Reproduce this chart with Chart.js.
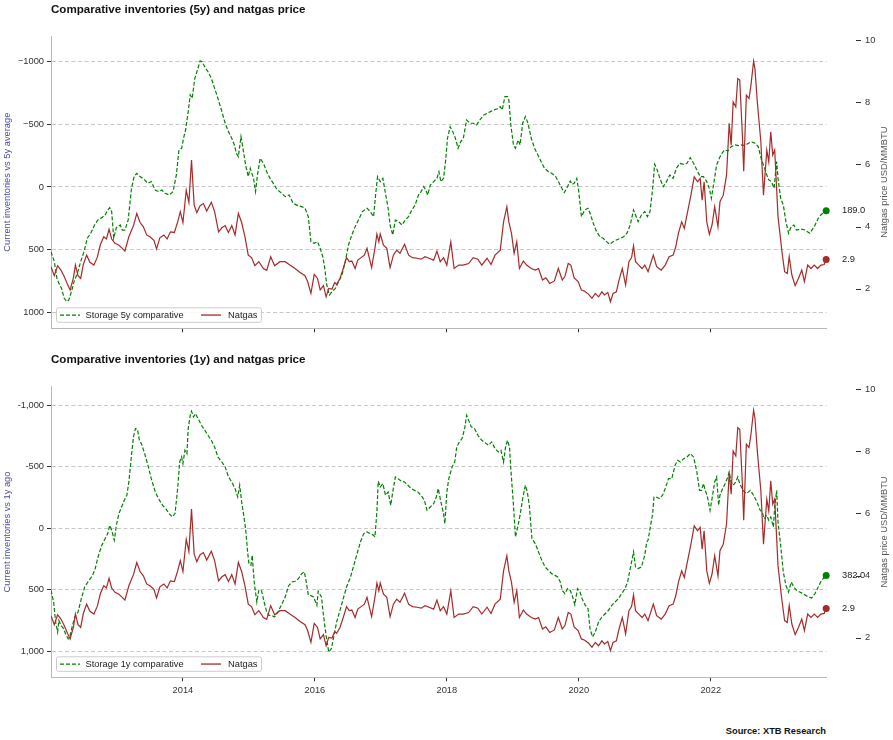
<!DOCTYPE html>
<html lang="en">
<head>
  <meta charset="UTF-8">
  <title>Comparative inventories and natgas price</title>
  <script src="https://cdn.jsdelivr.net/npm/chart.js"></script>
  <style>
    body { margin: 0; background: #fff; }
    #wrap { position: relative; width: 893px; height: 740px; font-family: "Liberation Sans", Arial, sans-serif; }
    canvas { position: absolute; left: 0; }
    .titulo { position: absolute; left: 51px; font-weight: bold; font-size: 11.6px; line-height: 14px; color: #111; white-space: nowrap; }
    #fonte { position: absolute; right: 67px; top: 724px; font-weight: bold; font-size: 9.3px; line-height: 14px; color: #111; }
  </style>
</head>
<body>
<div id="wrap">
  <canvas id="grafico1" width="893" height="345" style="top:0"></canvas>
  <canvas id="grafico2" width="893" height="365" style="top:345px"></canvas>
  <div class="titulo" style="top:2px">Comparative inventories (5y) and natgas price</div>
  <div class="titulo" style="top:352px">Comparative inventories (1y) and natgas price</div>
  <div id="fonte">Source: XTB Research</div>
</div>
<script>
  // natgas price, USD/MMBTU (same series in both panels)
  const gasDates = [
    2012.00,2012.05,2012.10,2012.15,2012.20,2012.25,2012.29,2012.34,2012.37,2012.41,
    2012.45,2012.49,2012.54,2012.59,2012.65,2012.70,2012.75,2012.80,2012.84,2012.88,
    2012.92,2012.97,2013.03,2013.08,2013.12,2013.18,2013.25,2013.30,2013.35,2013.40,
    2013.45,2013.50,2013.56,2013.60,2013.65,2013.71,2013.76,2013.81,2013.87,2013.92,
    2013.96,2014.00,2014.05,2014.09,2014.13,2014.17,2014.21,2014.26,2014.31,2014.36,
    2014.43,2014.48,2014.54,2014.59,2014.64,2014.69,2014.74,2014.79,2014.84,2014.89,
    2014.94,2014.99,2015.04,2015.09,2015.15,2015.22,2015.27,2015.33,2015.39,2015.47,
    2015.55,2015.62,2015.70,2015.77,2015.85,2015.89,2015.94,2015.99,2016.04,2016.08,
    2016.13,2016.17,2016.21,2016.26,2016.30,2016.33,2016.38,2016.43,2016.48,2016.52,
    2016.56,2016.61,2016.65,2016.70,2016.75,2016.79,2016.82,2016.86,2016.91,2016.94,
    2016.97,2016.99,2017.04,2017.09,2017.14,2017.19,2017.24,2017.29,2017.36,2017.42,
    2017.48,2017.55,2017.61,2017.67,2017.73,2017.80,2017.85,2017.90,2017.95,2018.00,
    2018.06,2018.11,2018.18,2018.25,2018.33,2018.40,2018.47,2018.53,2018.61,2018.67,
    2018.73,2018.81,2018.86,2018.91,2018.94,2018.98,2019.02,2019.06,2019.10,2019.16,
    2019.21,2019.28,2019.34,2019.39,2019.45,2019.50,2019.56,2019.63,2019.69,2019.75,
    2019.79,2019.84,2019.88,2019.93,2019.99,2020.04,2020.09,2020.15,2020.20,2020.25,
    2020.30,2020.35,2020.39,2020.44,2020.48,2020.52,2020.57,2020.61,2020.66,2020.71,
    2020.76,2020.80,2020.83,2020.86,2020.91,2020.96,2021.00,2021.05,2021.13,2021.18,
    2021.25,2021.31,2021.37,2021.43,2021.47,2021.51,2021.56,2021.60,2021.65,2021.70,
    2021.75,2021.80,2021.84,2021.87,2021.90,2021.94,2021.98,2022.02,2022.06,2022.11,
    2022.14,2022.19,2022.24,2022.28,2022.31,2022.34,2022.38,2022.41,2022.44,2022.48,
    2022.50,2022.54,2022.58,2022.61,2022.65,2022.67,2022.71,2022.76,2022.80,2022.85,
    2022.88,2022.91,2022.94,2022.97,2023.02,2023.08,2023.12,2023.16,2023.19,2023.23,
    2023.28,2023.33,2023.38,2023.42,2023.47,2023.52,2023.57,2023.62,2023.67,2023.72,
    2023.75
  ];
  const gasPrice = [
    2.71,2.42,2.74,2.60,2.39,2.14,1.96,2.35,2.76,2.42,
    2.33,2.78,3.08,2.85,2.76,3.00,3.43,3.67,3.60,3.91,
    3.60,3.46,3.40,3.30,3.21,3.67,4.03,4.42,4.13,3.99,
    3.73,3.67,3.56,3.28,3.64,3.73,3.60,3.83,3.81,4.15,
    4.48,4.13,5.17,4.78,6.14,4.69,4.45,4.67,4.74,4.50,
    4.78,4.48,3.83,3.96,4.03,3.81,4.03,3.73,4.42,4.13,
    3.67,3.08,3.00,2.74,2.87,2.65,2.59,3.03,2.74,2.87,
    2.87,2.76,2.65,2.53,2.42,2.23,1.85,2.46,2.33,1.96,
    2.10,1.74,2.01,1.99,2.20,2.14,2.33,2.65,3.00,2.87,
    2.89,2.65,2.92,3.00,3.08,3.30,3.03,2.68,3.30,3.76,
    3.51,3.76,3.40,3.30,2.68,3.08,3.24,3.14,3.43,3.08,
    3.00,2.98,2.95,3.03,2.98,2.92,3.21,2.87,3.00,2.76,
    3.51,2.65,2.76,2.76,2.81,3.00,2.95,2.76,2.98,2.78,
    3.08,3.24,4.15,4.64,4.15,3.78,3.14,3.51,2.65,2.89,
    2.76,2.65,2.60,2.65,2.28,2.35,2.17,2.25,2.65,2.28,
    2.39,2.81,2.76,2.35,2.23,1.96,1.92,1.82,1.69,1.85,
    1.74,1.90,1.80,1.88,1.58,1.85,1.90,2.28,2.65,2.12,
    2.87,3.00,3.38,2.87,2.76,2.65,2.76,2.55,3.08,2.71,
    2.60,2.76,3.03,3.08,3.35,3.78,4.15,3.94,4.48,5.01,
    5.60,5.44,5.55,4.85,5.44,4.15,3.75,4.05,4.64,3.99,
    4.80,5.01,5.66,7.32,6.62,8.01,7.85,8.76,8.71,6.94,
    5.78,8.23,8.12,8.55,9.32,9.08,7.91,6.73,5.01,6.46,
    6.08,7.05,6.30,6.46,4.32,3.19,2.55,2.49,3.03,2.44,
    2.10,2.33,2.60,2.23,2.76,2.65,2.76,2.65,2.76,2.78,
    2.94
  ];

  // storage vs 5y average (Bcf)
  const stor5Dates = [
    2012.00,2012.05,2012.09,2012.12,2012.16,2012.20,2012.24,2012.27,2012.31,2012.35,
    2012.40,2012.45,2012.50,2012.55,2012.61,2012.66,2012.71,2012.77,2012.82,2012.86,
    2012.89,2012.92,2012.95,2012.99,2013.05,2013.08,2013.12,2013.17,2013.22,2013.26,
    2013.30,2013.35,2013.42,2013.47,2013.52,2013.58,2013.63,2013.68,2013.73,2013.79,
    2013.85,2013.90,2013.94,2013.98,2014.02,2014.04,2014.08,2014.11,2014.14,2014.18,
    2014.22,2014.26,2014.29,2014.33,2014.38,2014.43,2014.48,2014.53,2014.59,2014.64,
    2014.69,2014.74,2014.78,2014.81,2014.84,2014.88,2014.91,2014.95,2014.99,2015.02,
    2015.07,2015.10,2015.13,2015.17,2015.22,2015.27,2015.32,2015.37,2015.42,2015.48,
    2015.55,2015.61,2015.67,2015.74,2015.80,2015.85,2015.90,2015.94,2015.99,2016.04,
    2016.08,2016.12,2016.15,2016.18,2016.22,2016.26,2016.31,2016.36,2016.41,2016.46,
    2016.51,2016.56,2016.61,2016.66,2016.72,2016.79,2016.84,2016.89,2016.92,2016.95,
    2016.99,2017.03,2017.07,2017.11,2017.14,2017.18,2017.22,2017.27,2017.32,2017.37,
    2017.42,2017.47,2017.52,2017.57,2017.61,2017.65,2017.68,2017.71,2017.75,2017.80,
    2017.85,2017.88,2017.91,2017.95,2017.98,2018.01,2018.05,2018.09,2018.13,2018.17,
    2018.21,2018.25,2018.30,2018.35,2018.40,2018.45,2018.50,2018.56,2018.61,2018.66,
    2018.71,2018.76,2018.81,2018.84,2018.88,2018.92,2018.94,2018.97,2019.01,2019.04,
    2019.08,2019.11,2019.15,2019.19,2019.23,2019.28,2019.33,2019.38,2019.43,2019.48,
    2019.54,2019.59,2019.65,2019.69,2019.73,2019.78,2019.83,2019.87,2019.90,2019.93,
    2019.97,2020.00,2020.04,2020.09,2020.14,2020.18,2020.22,2020.27,2020.32,2020.37,
    2020.42,2020.47,2020.52,2020.57,2020.63,2020.68,2020.73,2020.78,2020.83,2020.86,
    2020.90,2020.95,2021.00,2021.04,2021.08,2021.12,2021.15,2021.18,2021.23,2021.28,
    2021.33,2021.38,2021.43,2021.48,2021.53,2021.59,2021.64,2021.69,2021.74,2021.79,
    2021.84,2021.89,2021.94,2021.98,2022.01,2022.05,2022.09,2022.13,2022.17,2022.21,
    2022.26,2022.31,2022.37,2022.42,2022.47,2022.52,2022.57,2022.62,2022.67,2022.72,
    2022.77,2022.81,2022.85,2022.88,2022.92,2022.96,2023.00,2023.02,2023.06,2023.10,
    2023.14,2023.18,2023.22,2023.26,2023.30,2023.37,2023.43,2023.50,2023.57,2023.63,
    2023.68,2023.75
  ];
  const stor5 = [
    517,596,730,770,810,889,916,903,836,756,
    690,596,517,410,362,304,264,245,224,184,
    165,197,410,325,304,344,344,264,11,-83,
    -109,-83,-56,-29,-43,24,37,24,51,64,
    37,-96,-296,-309,-415,-455,-602,-735,-708,-868,
    -935,-1007,-1001,-961,-921,-868,-788,-708,-602,-509,
    -442,-389,-336,-269,-242,-402,-309,-176,-83,-149,
    -69,37,-96,-229,-189,-122,-69,-29,16,43,
    77,64,130,149,157,170,237,437,450,437,
    490,557,650,783,863,836,810,756,703,596,
    463,383,317,264,197,170,197,237,64,-83,
    -43,-69,51,170,304,383,264,277,304,264,
    237,184,144,64,37,-3,24,64,-16,-43,
    -69,-122,-43,-69,-202,-389,-482,-442,-389,-309,
    -362,-389,-535,-509,-509,-495,-535,-575,-588,-602,
    -615,-623,-642,-615,-722,-722,-695,-495,-336,-309,
    -375,-336,-509,-562,-509,-389,-309,-256,-202,-149,
    -122,-109,-83,-43,-3,45,-3,-48,-21,-29,
    -69,37,237,184,170,224,290,357,397,410,
    437,458,437,423,410,397,370,304,184,224,
    277,224,197,237,197,11,-181,-149,-69,-3,
    -43,-96,-69,-149,-189,-181,-189,-234,-189,-136,
    -83,-83,-43,16,91,-43,-176,-229,-269,-296,
    -288,-322,-336,-330,-336,-330,-349,-362,-349,-322,
    -216,-162,-96,-56,-43,11,-202,-69,91,144,
    277,370,317,304,344,336,344,370,317,250,
    218,189
  ];

  // storage vs 1y ago (Bcf)
  const stor1Dates = [
    2012.00,2012.04,2012.07,2012.10,2012.12,2012.15,2012.19,2012.22,2012.26,2012.29,
    2012.32,2012.36,2012.41,2012.46,2012.51,2012.56,2012.63,2012.67,2012.72,2012.77,
    2012.82,2012.86,2012.89,2012.92,2012.96,2012.99,2013.03,2013.07,2013.11,2013.15,
    2013.18,2013.22,2013.25,2013.28,2013.31,2013.34,2013.37,2013.42,2013.47,2013.52,
    2013.58,2013.63,2013.69,2013.74,2013.79,2013.84,2013.88,2013.92,2013.95,2013.98,
    2014.00,2014.03,2014.06,2014.08,2014.11,2014.13,2014.16,2014.19,2014.23,2014.28,
    2014.33,2014.38,2014.43,2014.48,2014.53,2014.59,2014.64,2014.69,2014.74,2014.79,
    2014.83,2014.86,2014.89,2014.91,2014.95,2014.98,2015.00,2015.03,2015.05,2015.08,
    2015.12,2015.15,2015.19,2015.23,2015.27,2015.30,2015.34,2015.39,2015.44,2015.49,
    2015.55,2015.60,2015.65,2015.70,2015.75,2015.80,2015.84,2015.87,2015.90,2015.93,
    2015.98,2016.03,2016.05,2016.10,2016.13,2016.17,2016.21,2016.25,2016.28,2016.33,
    2016.38,2016.43,2016.48,2016.54,2016.59,2016.64,2016.69,2016.74,2016.79,2016.84,
    2016.89,2016.91,2016.94,2016.96,2016.99,2017.03,2017.07,2017.11,2017.15,2017.18,
    2017.22,2017.26,2017.31,2017.36,2017.41,2017.46,2017.51,2017.56,2017.61,2017.66,
    2017.70,2017.75,2017.80,2017.84,2017.87,2017.91,2017.95,2017.97,2018.00,2018.03,
    2018.08,2018.12,2018.15,2018.19,2018.23,2018.27,2018.30,2018.33,2018.37,2018.42,
    2018.47,2018.53,2018.58,2018.63,2018.68,2018.73,2018.78,2018.82,2018.86,2018.89,
    2018.92,2018.95,2018.97,2019.01,2019.04,2019.08,2019.11,2019.15,2019.19,2019.22,
    2019.25,2019.29,2019.34,2019.39,2019.44,2019.49,2019.54,2019.59,2019.64,2019.68,
    2019.72,2019.75,2019.79,2019.83,2019.87,2019.90,2019.94,2019.98,2020.02,2020.05,
    2020.10,2020.14,2020.17,2020.21,2020.25,2020.30,2020.35,2020.40,2020.45,2020.50,
    2020.55,2020.60,2020.65,2020.70,2020.74,2020.78,2020.83,2020.86,2020.90,2020.95,
    2021.00,2021.03,2021.05,2021.08,2021.12,2021.14,2021.17,2021.22,2021.27,2021.31,
    2021.36,2021.41,2021.46,2021.50,2021.54,2021.59,2021.64,2021.69,2021.74,2021.79,
    2021.83,2021.86,2021.89,2021.91,2021.95,2021.99,2022.02,2022.06,2022.09,2022.12,
    2022.14,2022.18,2022.22,2022.26,2022.28,2022.31,2022.34,2022.38,2022.41,2022.44,
    2022.49,2022.54,2022.60,2022.65,2022.70,2022.75,2022.78,2022.81,2022.85,2022.88,
    2022.91,2022.95,2022.97,2023.00,2023.02,2023.06,2023.10,2023.14,2023.18,2023.22,
    2023.26,2023.30,2023.35,2023.42,2023.48,2023.53,2023.58,2023.63,2023.68,2023.75
  ];
  const stor1 = [
    503,598,760,842,747,787,814,855,896,869,
    801,720,679,571,476,436,382,327,219,138,
    84,43,-24,16,97,-24,-119,-173,-227,-268,
    -376,-593,-741,-809,-804,-714,-687,-606,-511,-403,
    -295,-241,-187,-160,-119,-92,-119,-322,-538,-579,
    -525,-633,-606,-809,-917,-950,-904,-931,-890,-836,
    -796,-755,-714,-660,-579,-538,-498,-417,-376,-322,
    -254,-349,-214,-146,3,192,287,300,219,436,
    598,503,503,598,679,706,706,720,679,625,
    557,468,436,430,409,368,354,436,540,544,
    557,625,511,557,706,869,1004,977,896,760,
    666,571,476,395,300,206,111,43,30,43,
    57,70,-133,-382,-335,-363,-268,-295,-187,-295,
    -417,-403,-382,-376,-349,-322,-308,-295,-268,-227,
    -146,-173,-200,-254,-322,-214,-119,-38,-295,-403,
    -498,-538,-660,-701,-728,-809,-917,-877,-823,-809,
    -755,-714,-695,-674,-701,-647,-620,-633,-538,-660,
    -714,-660,-484,-187,70,-24,-106,-241,-349,-295,
    -187,84,124,192,260,314,341,368,382,395,
    436,503,530,490,503,544,620,490,517,571,
    625,652,815,882,842,760,720,693,666,625,
    598,571,530,490,436,327,192,314,327,314,
    219,111,97,3,-119,-254,-254,-241,-268,-322,
    -403,-403,-511,-552,-538,-565,-579,-606,-579,-457,
    -308,-308,-363,-322,-254,-146,-241,-376,-417,-187,
    -268,-322,-363,-417,-457,-376,-349,-376,-417,-363,
    -308,-281,-308,-268,-214,-146,-133,-78,-106,-65,
    -92,-11,-173,-308,-51,138,354,463,517,436,
    476,503,517,538,557,565,530,476,422,382
  ];

  const yearTicks = [2014, 2016, 2018, 2020, 2022];
  const storTicks = [-1000, -500, 0, 500, 1000];
  const priceTicks = [2, 4, 6, 8, 10];

  const VERDE = '#008000';
  const MARROM = '#a52a2a';
  const FONTE = '"Liberation Sans", Arial, sans-serif';

  function pontos(xs, ys) {
    return xs.map((x, i) => ({ x: x, y: ys[i] }));
  }
  function ultimo(xs, ys) {
    return [{ x: xs[xs.length - 1], y: ys[ys.length - 1] }];
  }

  // legenda dentro do grafico, titulo do eixo direito, marcas e rotulos finais
  const enfeites = {
    id: 'enfeites',
    afterDraw(chart, args, opts) {
      const ctx = chart.ctx, area = chart.chartArea;
      const yL = chart.scales.y, yR = chart.scales.y1;
      ctx.save();
      ctx.strokeStyle = '#333';
      ctx.lineWidth = 1;
      yR.ticks.forEach(t => {
        const py = Math.round(yR.getPixelForValue(t.value)) + 0.5;
        ctx.beginPath(); ctx.moveTo(856, py); ctx.lineTo(861, py); ctx.stroke();
      });

      ctx.font = '9.3px ' + FONTE;
      ctx.fillStyle = '#222';
      ctx.textAlign = 'left';
      ctx.textBaseline = 'middle';
      ctx.fillText(opts.stLast.toFixed(1), 842, yL.getPixelForValue(opts.stLast));
      ctx.fillText(opts.gasLast.toFixed(1), 842, yR.getPixelForValue(opts.gasLast));

      // legenda
      const lx = area.left + 5.5, ly = area.bottom - 20.5, lw = 205, lh = 14.5;
      ctx.fillStyle = 'rgba(255,255,255,0.85)';
      ctx.strokeStyle = '#cccccc';
      ctx.beginPath(); ctx.roundRect(lx, ly, lw, lh, 2); ctx.fill(); ctx.stroke();
      const cy = ly + lh / 2;
      ctx.lineWidth = 1.3;
      ctx.strokeStyle = VERDE;
      ctx.setLineDash([4, 2]);
      ctx.beginPath(); ctx.moveTo(lx + 3.5, cy); ctx.lineTo(lx + 23.5, cy); ctx.stroke();
      ctx.setLineDash([]);
      ctx.strokeStyle = MARROM;
      ctx.beginPath(); ctx.moveTo(lx + 144.5, cy); ctx.lineTo(lx + 164.5, cy); ctx.stroke();
      ctx.fillStyle = '#222';
      ctx.fillText(opts.legenda, lx + 29, cy);
      ctx.fillText('Natgas', lx + 171.5, cy);

      // titulo do eixo da direita, de baixo para cima
      ctx.fillStyle = '#555';
      ctx.textAlign = 'center';
      ctx.translate(884, (area.top + area.bottom) / 2);
      ctx.rotate(-Math.PI / 2);
      ctx.fillText('Natgas price USD/MMBTU', 0, 0);
      ctx.restore();
    }
  };

  function montar(id, stDates, stVals, o) {
    const fonteEixo = { family: FONTE, size: 9.3 };
    return new Chart(document.getElementById(id), {
      type: 'line',
      data: {
        datasets: [
          { data: ultimo(stDates, stVals), yAxisID: 'y', showLine: false, pointRadius: 3.5,
            pointBackgroundColor: VERDE, pointBorderColor: VERDE, pointBorderWidth: 0, clip: false, order: 0 },
          { data: ultimo(gasDates, gasPrice), yAxisID: 'y1', showLine: false, pointRadius: 3.5,
            pointBackgroundColor: MARROM, pointBorderColor: MARROM, pointBorderWidth: 0, clip: false, order: 0 },
          { data: pontos(gasDates, gasPrice), yAxisID: 'y1', borderColor: MARROM, borderWidth: 1.2,
            pointRadius: 0, tension: 0, order: 1 },
          { data: pontos(stDates, stVals), yAxisID: 'y', borderColor: VERDE, borderWidth: 1.2,
            borderDash: [4, 2], pointRadius: 0, tension: 0, order: 2 }
        ]
      },
      options: {
        responsive: false,
        animation: false,
        events: [],
        layout: { padding: { top: o.top, bottom: 0, left: 0, right: 0 } },
        plugins: {
          legend: { display: false },
          tooltip: { enabled: false },
          enfeites: { legenda: o.legenda, stLast: stVals[stVals.length - 1], gasLast: gasPrice[gasPrice.length - 1] }
        },
        scales: {
          x: {
            type: 'linear', min: 2012.0, max: 2023.755,
            afterBuildTicks: s => { s.ticks = yearTicks.map(v => ({ value: v })); },
            afterFit: s => { s.height = o.xh; },
            grid: { drawOnChartArea: false, drawTicks: true, tickLength: 4, tickColor: '#333' },
            border: { display: true, color: '#b8b8b8' },
            ticks: { display: o.anos, padding: 4, color: '#333', font: fonteEixo, autoSkip: false,
              maxRotation: 0, callback: v => String(v) }
          },
          y: {
            position: 'left', reverse: true, min: o.stMin, max: o.stMax,
            afterBuildTicks: s => { s.ticks = storTicks.map(v => ({ value: v })); },
            afterFit: s => { s.width = 51; },
            grid: { color: '#c8c8c8', lineWidth: 1, drawTicks: true, tickLength: 4, tickColor: '#333', tickBorderDash: [] },
            border: { display: true, color: '#b8b8b8', dash: [4, 2.5] },
            ticks: { padding: 3, color: '#333', font: fonteEixo, callback: o.fmt },
            title: { display: true, text: o.tituloY, color: '#4b4b9b', font: fonteEixo, padding: { top: 1.5, bottom: 0 } }
          },
          y1: {
            position: 'right', min: o.gMin, max: o.gMax,
            afterBuildTicks: s => { s.ticks = priceTicks.map(v => ({ value: v })); },
            afterFit: s => { s.width = 66.5; },
            // marcas invisiveis: so servem para afastar os rotulos do grafico
            grid: { display: false, drawTicks: true, tickLength: 35 },
            border: { display: false },
            ticks: { padding: 3.5, color: '#333', font: fonteEixo, callback: v => String(v) }
          }
        }
      },
      plugins: [enfeites]
    });
  }

  const grafico1 = montar('grafico1', stor5Dates, stor5, {
    top: 36, xh: 16.7, anos: false,
    stMin: -1206, stMax: 1129, gMin: 0.727, gMax: 10.13,
    fmt: v => (v < 0 ? '\u2212' + Math.abs(v) : String(v)),
    tituloY: 'Current inventories vs 5y average',
    legenda: 'Storage 5y comparative'
  });

  const grafico2 = montar('grafico2', stor1Dates, stor1, {
    top: 41.7, xh: 32.7, anos: true,
    stMin: -1149, stMax: 1209, gMin: 0.725, gMax: 10.08,
    fmt: v => v.toLocaleString('en-US'),
    tituloY: 'Current inventories vs 1y ago',
    legenda: 'Storage 1y comparative'
  });
</script>
</body>
</html>
